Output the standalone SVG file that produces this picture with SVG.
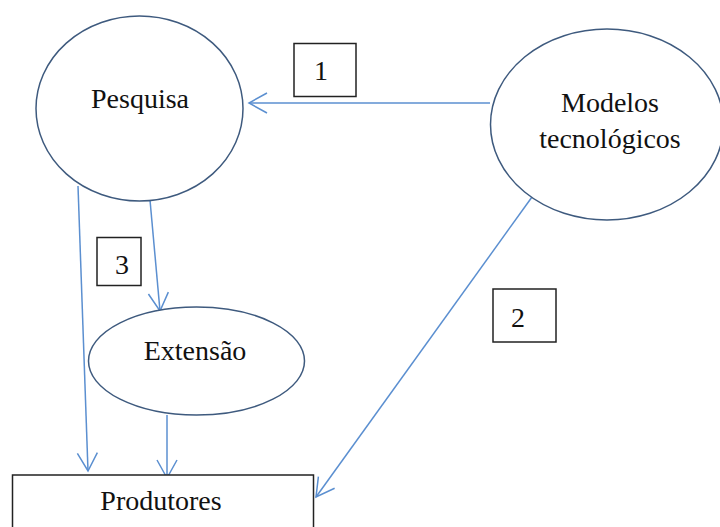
<svg xmlns="http://www.w3.org/2000/svg" width="720" height="527" viewBox="0 0 720 527">
<defs>
<style>
.node{fill:#fff;stroke:#3e5a7e;stroke-width:1.5}
.box{fill:#fff;stroke:#222;stroke-width:1.5}
.lbl{font-family:"Liberation Serif","Times New Roman",serif;font-size:28px;fill:#111;text-anchor:middle}
.conn{fill:none;stroke:#5b8fd0;stroke-width:1.5}
</style>
<marker id="arr" markerUnits="userSpaceOnUse" markerWidth="24" markerHeight="24" viewBox="-20 -12 24 24" refX="0" refY="0" orient="auto">
<path d="M-18,-10 L0,0 L-18,10" fill="none" stroke="#5b8fd0" stroke-width="1.5"/>
</marker>
</defs>
<rect width="720" height="527" fill="#fff"/>
<g id="connectors">
<line class="conn" x1="490" y1="103" x2="249" y2="103" marker-end="url(#arr)"/>
<line class="conn" x1="532" y1="197" x2="316" y2="497" marker-end="url(#arr)"/>
<line class="conn" x1="150" y1="200" x2="160" y2="311" marker-end="url(#arr)"/>
<line class="conn" x1="78" y1="186" x2="88" y2="471" marker-end="url(#arr)"/>
<line class="conn" x1="167" y1="415" x2="167" y2="478" marker-end="url(#arr)"/>
</g>
<g id="pesquisa">
<ellipse class="node" cx="139.5" cy="108.5" rx="103.5" ry="92.5"/>
<text class="lbl" x="140" y="108">Pesquisa</text>
</g>
<g id="modelos">
<ellipse class="node" cx="607" cy="124.5" rx="116.5" ry="95.5"/>
<text class="lbl" x="610" y="112">Modelos</text>
<text class="lbl" x="610" y="148">tecnológicos</text>
</g>
<g id="extensao">
<ellipse class="node" cx="196.5" cy="361" rx="108" ry="54"/>
<text class="lbl" x="195" y="360">Extensão</text>
</g>
<g id="produtores">
<rect class="box" x="12.5" y="475" width="301" height="60"/>
<text class="lbl" x="161" y="510">Produtores</text>
</g>
<g id="label1">
<rect class="box" x="294" y="43.5" width="62" height="53"/>
<text class="lbl" x="321" y="80">1</text>
</g>
<g id="label2">
<rect class="box" x="493" y="289" width="63" height="53"/>
<text class="lbl" x="518" y="327">2</text>
</g>
<g id="label3">
<rect class="box" x="97" y="237.5" width="44" height="48"/>
<text class="lbl" x="122" y="274">3</text>
</g>
</svg>
